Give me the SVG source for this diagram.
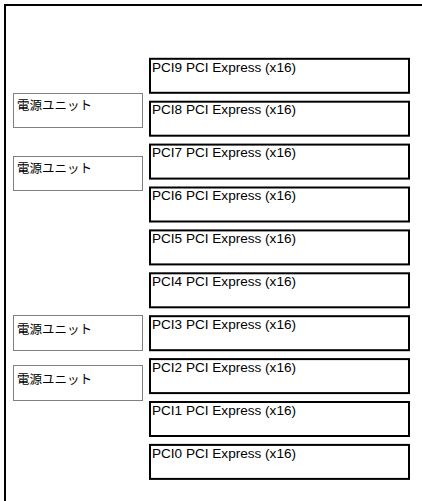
<svg xmlns="http://www.w3.org/2000/svg" width="422" height="501" viewBox="0 0 422 501">
<style>
.frame{fill:none;stroke:#000;stroke-width:2}
.pci rect{fill:#fff;stroke:#000;stroke-width:2}
.pci text{font-family:"Liberation Sans","Noto Sans CJK JP",sans-serif;font-size:12px;fill:#000}
.psu rect{fill:#fff;stroke:#808080;stroke-width:1}
.psu text{font-family:"Noto Sans CJK JP","Noto Sans CJK SC",sans-serif;font-size:12.5px;fill:#000}
</style>
<rect class="frame" x="5" y="5" width="440" height="520"/>
<g id="connectors"></g>
<g id="psu1" class="psu"><rect x="13.5" y="93.5" width="129" height="34"/><text x="17" y="110">電源ユニット</text></g>
<g id="psu2" class="psu"><rect x="13.5" y="156.5" width="129" height="34"/><text x="17" y="173">電源ユニット</text></g>
<g id="psu3" class="psu"><rect x="13.5" y="315.5" width="129" height="35"/><text x="17" y="334">電源ユニット</text></g>
<g id="psu4" class="psu"><rect x="13.5" y="365.5" width="129" height="35"/><text x="17" y="384">電源ユニット</text></g>
<g id="pci9" class="pci"><rect x="150" y="58.8" width="259" height="34"/><text x="152" y="71.5" textLength="144" lengthAdjust="spacingAndGlyphs">PCI9 PCI Express (x16)</text></g>
<g id="pci8" class="pci"><rect x="150" y="101.7" width="259" height="34"/><text x="152" y="114.4" textLength="144" lengthAdjust="spacingAndGlyphs">PCI8 PCI Express (x16)</text></g>
<g id="pci7" class="pci"><rect x="150" y="144.6" width="259" height="34"/><text x="152" y="157.3" textLength="144" lengthAdjust="spacingAndGlyphs">PCI7 PCI Express (x16)</text></g>
<g id="pci6" class="pci"><rect x="150" y="187.5" width="259" height="34"/><text x="152" y="200.2" textLength="144" lengthAdjust="spacingAndGlyphs">PCI6 PCI Express (x16)</text></g>
<g id="pci5" class="pci"><rect x="150" y="230.4" width="259" height="34"/><text x="152" y="243.1" textLength="144" lengthAdjust="spacingAndGlyphs">PCI5 PCI Express (x16)</text></g>
<g id="pci4" class="pci"><rect x="150" y="273.3" width="259" height="34"/><text x="152" y="286" textLength="144" lengthAdjust="spacingAndGlyphs">PCI4 PCI Express (x16)</text></g>
<g id="pci3" class="pci"><rect x="150" y="316.2" width="259" height="34"/><text x="152" y="328.9" textLength="144" lengthAdjust="spacingAndGlyphs">PCI3 PCI Express (x16)</text></g>
<g id="pci2" class="pci"><rect x="150" y="359.1" width="259" height="34"/><text x="152" y="371.8" textLength="144" lengthAdjust="spacingAndGlyphs">PCI2 PCI Express (x16)</text></g>
<g id="pci1" class="pci"><rect x="150" y="402" width="259" height="34"/><text x="152" y="414.7" textLength="144" lengthAdjust="spacingAndGlyphs">PCI1 PCI Express (x16)</text></g>
<g id="pci0" class="pci"><rect x="150" y="444.9" width="259" height="34"/><text x="152" y="457.6" textLength="144" lengthAdjust="spacingAndGlyphs">PCI0 PCI Express (x16)</text></g>
</svg>
